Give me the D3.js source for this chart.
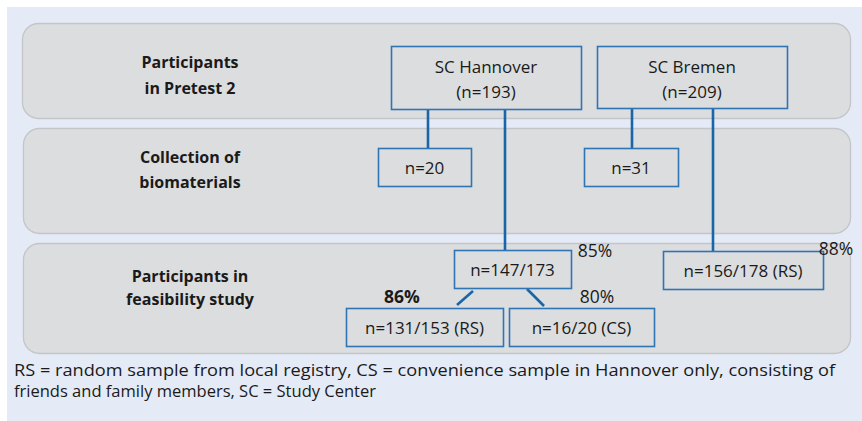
<!DOCTYPE html>
<html><head><meta charset="utf-8">
<script src="https://cdn.jsdelivr.net/npm/d3@7"></script>
<style>body{margin:0;background:#fff}svg{display:block}</style>
</head><body>
<svg id="c" width="862" height="421"></svg>
<script>
// ---- data ----
const stageLabels = [["Participants", "in Pretest 2"], ["Collection of", "biomaterials"], ["Participants in", "feasibility study"]];
const nodeIds = ["han", "bre", "han_bio", "bre_bio", "han_fs", "bre_fs", "han_rs", "han_cs"];
const nodeTexts = [["SC Hannover", "(n=193)"], ["SC Bremen", "(n=209)"], ["n=20"], ["n=31"], ["n=147/173"], ["n=156/178 (RS)"], ["n=131/153 (RS)"], ["n=16/20 (CS)"]];
const percentLabels = ["85%", "88%", "86%", "80%"];
const percentBold = [false, false, true, false];
const footnoteLines = ["RS = random sample from local registry, CS = convenience sample in Hannover only, consisting of", "friends and family members, SC = Study Center"];

// ---- layout (positions only) ----
const stageBoxes = [[22, 23, 828, 95], [23, 128, 827, 105], [23, 243, 827, 110]];
const stageTextY = [[68, 94], [163, 188], [282, 305]];
const nodeBoxes = {
  han: [391, 46, 190, 63], bre: [597, 46, 190, 62],
  han_bio: [378, 148, 93, 38], bre_bio: [584, 148, 94, 38],
  han_fs: [454, 250, 117, 38], bre_fs: [663, 251, 160, 38],
  han_rs: [346, 308, 157, 38], han_cs: [509, 308, 145, 38]
};
const percentPos = [[595, 257], [836, 255], [402, 303], [597, 303]];
const links = [
  [428, 109, 428, 148], [505, 109, 505, 250], [632, 108, 632, 148], [713, 109, 713, 251],
  [473, 291, 457, 305], [527, 289, 544, 306]
];

const svg = d3.select("#c");
const font = "'Open Sans', 'Noto Sans', sans-serif";

svg.append("rect").attr("x", 7).attr("y", 7).attr("width", 855).attr("height", 414).attr("fill", "#e4eaf6");

svg.selectAll("rect.stage").data(stageBoxes).join("rect").attr("class", "stage")
  .attr("x", d => d[0] + 0.5).attr("y", d => d[1] + 0.5).attr("width", d => d[2]).attr("height", d => d[3])
  .attr("rx", 16).attr("fill", "#dcdddf").attr("stroke", "#c3c5c8").attr("stroke-width", 1.3);

stageLabels.forEach((lines, i) => {
  lines.forEach((t, j) => {
    svg.append("text").attr("x", 190).attr("y", stageTextY[i][j]).attr("text-anchor", "middle")
      .attr("font-family", font).attr("font-weight", 700).attr("font-size", 16).attr("fill", "#1a1a1a").text(t);
  });
});

svg.selectAll("line.link").data(links).join("line").attr("class", "link")
  .attr("x1", d => d[0]).attr("y1", d => d[1]).attr("x2", d => d[2]).attr("y2", d => d[3])
  .attr("stroke", "#1a64a8").attr("stroke-width", 2.6);

nodeIds.forEach((id, i) => {
  const b = nodeBoxes[id];
  svg.append("rect").attr("x", b[0] + 0.5).attr("y", b[1] + 0.5).attr("width", b[2]).attr("height", b[3])
    .attr("fill", "none").attr("stroke", "#2f74b3").attr("stroke-width", 1.6);
  const lines = nodeTexts[i];
  const cx = b[0] + b[2] / 2;
  const ys = lines.length === 2 ? [b[1] + 27, b[1] + 52] : [b[1] + b[3] / 2 + 7];
  lines.forEach((t, j) => {
    svg.append("text").attr("x", cx).attr("y", ys[j]).attr("text-anchor", "middle")
      .attr("font-family", font).attr("font-size", 17).attr("fill", "#1a1a1a").text(t);
  });
});

percentLabels.forEach((t, i) => {
  svg.append("text").attr("x", percentPos[i][0]).attr("y", percentPos[i][1]).attr("text-anchor", "middle")
    .attr("font-family", font).attr("font-size", 17.5).attr("font-weight", percentBold[i] ? 700 : 400)
    .attr("fill", "#1a1a1a").text(t);
});

const footW = [821, 362];
footnoteLines.forEach((t, i) => {
  svg.append("text").attr("x", 14).attr("y", 376 + i * 21)
    .attr("font-family", font).attr("font-size", 16).attr("fill", "#1a1a1a")
    .attr("textLength", footW[i]).attr("lengthAdjust", "spacingAndGlyphs").text(t);
});
</script>
</body></html>
